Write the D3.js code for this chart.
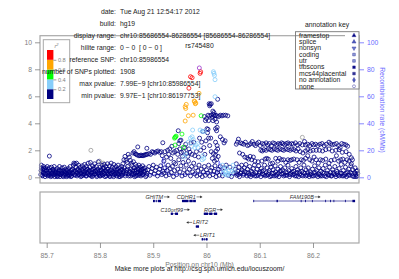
<!DOCTYPE html>
<html>
<head>
<meta charset="utf-8">
<script src="https://cdn.jsdelivr.net/npm/d3@7"></script>
<style>
html, body { margin: 0; padding: 0; background: #fff; }
svg { display: block; }
text { font-family: "Liberation Sans", sans-serif; }
</style>
</head>
<body>
<div id="chart"></div>
<script>
// DATA //
const headerLabels = ["date:", "build:", "display range:", "hilite range:", "reference SNP:", "number of SNPs plotted:", "max pvalue:", "min pvalue:"]
const headerValues = ["Tue Aug 21 12:54:17 2012", "hg19", "chr10:85686554-86286554 [85686554-86286554]", "0 \u2212 0  [ 0 \u2212 0 ]", "chr10:85986554", "1908", "7.99E\u22129 [chr10:85986554]", "9.97E\u22121 [chr10:86197753]"]
const annotationNames = ["framestop", "splice", "nonsyn", "coding", "utr", "tfbscons", "mcs44placental", "no annotation", "none"]
const xTicks = [85.7, 85.8, 85.9, 86, 86.1, 86.2]
const xTickLabels = ["85.7", "85.8", "85.9", "86", "86.1", "86.2"]
const yTicks = [0, 2, 4, 6, 8, 10]
const recombTicks = [0, 20, 40, 60, 80, 100]
const ldBreaks = [0, 0.2, 0.4, 0.6, 0.8, 1]
const ldColors = ["#000080", "#87cefa", "#00ff00", "#ffa500", "#ff0000"]

const refSnp = [[85.9866, 8.1]]
const redPoints = [[85.970,7.45],[85.973,7.38],[85.989,7.82],[85.988,7.7],[85.967,6.6]]
const orangePoints = [[85.986,6.22],[85.962,5.4],[85.960,5.23],[85.961,5.1],[85.978,5.6],[85.979,5.45],[85.977,5.65],[85.980,5.5],[85.975,4.6],[85.966,4.56],[85.960,4.17]]
const greenPoints = [[85.990,4.56],[85.941,2.96],[85.942,3.0],[85.940,2.9],[85.943,3.05],[85.954,3.2],[85.941,2.39],[85.9565,2.22]]
const lightBluePoints = [
  [86.013,7.82],[86.014,7.7],[86.015,7.55],[86.016,7.23],[86.016,5.97],[85.974,3.5],[85.988,3.5],[85.992,3.4],[85.996,3.4],
  [85.970,2.9],[85.973,3.0],[85.975,2.8],[85.966,2.6],[85.983,2.5],[85.980,2.4],[85.978,2.2],[85.984,2.2],[85.972,2.3],
  [85.961,1.7],[85.958,1.5],[85.993,1.6],[85.995,1.4],[85.992,1.3],
  [86.030,0.9],[86.033,0.6],[86.036,0.4],[86.038,0.7],[86.040,0.3],[86.042,0.5],[86.035,0.2],[86.045,0.2],[86.048,0.45],[86.050,0.9],[86.052,0.5],[86.039,0.15],[86.031,0.3]
]
const grayPoints = [[85.783,2.0],[85.799,1.2],[85.806,1.05],[86.180,2.96]]
const navyPoints = [
  // left band
  [85.689,.2],[85.690,.7],[85.690,.9],[85.691,.4],[85.692,.1],[85.693,.6],[85.694,.8],[85.695,.3],[85.696,.5],[85.697,.05],[85.698,.7],[85.699,.2],[85.700,.45],[85.701,.8],[85.702,.1],[85.703,.6],[85.704,.3],[85.705,1.57],[85.705,.7],[85.706,.15],
  [85.707,.5],[85.708,.25],[85.709,.75],[85.710,.1],[85.711,.4],[85.712,.6],[85.713,.2],[85.714,.8],[85.715,.05],[85.716,.35],[85.717,.55],[85.718,.15],[85.719,.3],[85.720,.65],[85.721,.1],[85.722,.45],[85.723,.25],[85.724,.8],[85.725,.05],[85.726,.5],
  [85.727,.2],[85.728,.35],[85.729,.7],[85.730,.1],[85.731,.5],[85.732,.25],[85.733,.75],[85.734,.15],[85.735,.4],[85.736,.6],[85.737,.05],[85.738,.3],[85.739,.5],[85.740,.2],[85.741,.65],[85.742,.1],[85.743,.4],[85.744,.8],[85.745,.25],[85.746,.5],
  [85.747,.1],[85.748,.35],[85.749,.6],[85.750,.9],[85.751,1.05],[85.752,.2],[85.753,1.0],[85.754,.45],[85.755,.75],[85.756,1.05],[85.757,.1],[85.758,.35],[85.759,.6],[85.760,.9],[85.761,.2],[85.762,.5],[85.763,.75],[85.764,.05],[85.765,.3],[85.766,.6],
  [85.767,.85],[85.768,.15],[85.769,.4],[85.770,.7],[85.771,.95],[85.772,.25],[85.773,.5],[85.774,.8],[85.775,.1],[85.776,.35],[85.777,.6],[85.778,1.05],[85.779,.2],[85.780,.45],[85.781,.75],[85.782,1.1],[85.783,.1],[85.784,.3],[85.785,.55],[85.786,.85],
  [85.787,.15],[85.788,.4],[85.789,.7],[85.790,1.0],[85.791,.25],[85.792,.5],[85.793,.8],[85.794,.05],[85.795,.35],[85.796,.6],[85.797,1.15],[85.798,.2],[85.799,.45],[85.800,.75],[85.801,.1],[85.802,.3],[85.803,.55],[85.804,.9],[85.805,.15],[85.806,.4],
  [85.807,.7],[85.808,.95],[85.809,.25],[85.810,.5],[85.811,.8],[85.812,.1],[85.813,.35],[85.814,1.0],[85.815,.6],[85.816,.2],[85.817,.45],[85.818,.85],[85.819,.05],[85.820,.3],[85.821,1.05],[85.822,.55],[85.823,.75],[85.824,.15],[85.825,.4],[85.826,.95],
  [85.827,.65],[85.828,.25],[85.829,.5],[85.830,.8],[85.831,.1],[85.832,.35],[85.833,.6],[85.834,.9],[85.835,.2],[85.836,.45],[85.837,.7],[85.838,.05],[85.839,.3],[85.840,.55],[85.841,.8],[85.842,.15],[85.843,1.0],[85.844,.4],[85.845,1.3],[85.846,.7],
  [85.847,1.55],[85.848,.25],[85.849,1.25],[85.850,.5],[85.851,1.1],[85.852,.8],[85.853,1.7],[85.854,.1],[85.855,1.5],[85.856,.35],[85.857,1.25],[85.858,.6],[85.859,1.05],[85.860,.9],[85.861,.2],[85.862,.45],[85.863,1.15],[85.864,.7],[85.865,.05],[85.866,.3],
  [85.867,.95],[85.868,.55],[85.869,.8],[85.870,.15],[85.871,.4],[85.872,.65],[85.873,.9],[85.874,.25],[85.875,.5],[85.876,.75],[85.877,.1],[85.878,.35],[85.879,.6],[85.880,.85],[85.881,.2],[85.882,.45],[85.884,.7],[85.886,.05],[85.888,.3],[85.890,.55],
  [85.892,.8],[85.894,.15],[85.896,.4],[85.898,.65],[85.900,.9],[85.902,.25],[85.904,.5],[85.906,.75],[85.908,.1],[85.910,.35],[85.912,.6],[85.914,.85],[85.916,.2],[85.918,.45],
  // second pass over the solid part of the left band
  [85.6895,.5],[85.6915,.15],[85.6935,.35],[85.6955,.65],[85.6975,.25],[85.6995,.55],[85.7015,.3],[85.7035,.15],[85.7055,.45],[85.7075,.05],[85.7095,.3],[85.7115,.55],[85.7135,.45],[85.7155,.25],[85.7175,.4],[85.7195,.05],[85.7215,.3],[85.7235,.55],[85.7255,.2],[85.7275,.45],
  [85.7295,.3],[85.7315,.05],[85.7335,.4],[85.7355,.25],[85.7375,.5],[85.7395,.1],[85.7415,.35],[85.7435,.2],[85.7455,.05],[85.7475,.55],[85.7495,.3],[85.7515,.45],[85.7535,.15],[85.7555,.3],[85.7575,.55],[85.7595,.2],[85.7615,.45],[85.7635,.3],[85.7655,.1],[85.7675,.5],
  [85.7695,.25],[85.7715,.4],[85.7735,.1],[85.7755,.6],[85.7775,.3],[85.7795,.5],[85.7815,.2],[85.7835,.4],[85.7855,.05],[85.7875,.6],[85.7895,.25],[85.7915,.45],[85.7935,.15],[85.7955,.5],[85.7975,.3],[85.7995,.1],[85.8015,.55],[85.8035,.2],[85.8055,.65],[85.8075,.3],
  [85.8095,.05],[85.8115,.45],[85.8135,.6],[85.8155,.25],[85.8175,.1],[85.8195,.5],[85.8215,.3],[85.8235,.4],[85.8255,.05],[85.8275,.2],[85.8295,.35],[85.8315,.55],[85.8335,.25],[85.8355,.05],[85.8375,.45],[85.8395,.15],[85.8415,.6],[85.8435,.3],[85.8455,.5],[85.8475,.1],
  [85.8495,.35],[85.8515,.6],[85.8535,.25],[85.8555,.45],[85.8575,.1],[85.8595,.3],[85.8615,.55],[85.8635,.2],[85.8655,.45],[85.8675,.1],[85.8695,.35],[85.8715,.6],[85.8735,.15],[85.8755,.3],[85.8775,.55],[85.8795,.2],[85.8815,.65],[85.8835,.35],[85.8855,.5],[85.8875,.15],
  // ridge before the peak
  [85.862,1.8],[85.864,1.9],[85.866,1.75],[85.868,1.7],[85.871,2.25],[85.870,1.65],[85.873,1.6],[85.875,1.6],[85.877,1.65],[85.879,1.6],[85.881,1.6],[85.883,1.65],[85.885,1.65],[85.888,2.15],[85.887,1.7],[85.889,1.7],[85.892,1.75],[85.895,1.7],[85.898,1.9],[85.900,1.85],[85.903,1.8],[85.906,1.9],[85.909,1.95],[85.912,1.85],[85.915,1.9],[85.917,1.6],[85.918,2.56],[85.920,1.2],[85.922,1.9],[85.925,1.5],[85.927,2.0],[85.929,1.7],[85.931,2.1],[85.933,1.4],[85.935,2.3],[85.937,1.8],[85.939,1.1],[85.940,1.9],
  // under the peak
  [85.920,.3],[85.922,.7],[85.924,.1],[85.926,.5],[85.928,.9],[85.930,.2],[85.932,.65],[85.934,.35],[85.936,.8],[85.938,.05],[85.940,.5],[85.942,1.0],[85.944,.2],[85.946,.6],[85.948,1.3],[85.950,.4],[85.952,.85],[85.954,.1],[85.956,1.1],[85.958,.55],[85.960,.2],[85.962,.9],[85.964,.35],[85.966,1.2],[85.968,.6],[85.970,.1],[85.972,.8],[85.974,.4],[85.976,1.05],[85.978,.25],[85.980,.7],[85.982,.1],[85.984,.5],[85.986,.9],[85.988,.2],[85.990,.6],[85.992,.05],[85.994,.4],[85.996,.8],[85.998,.15],[86.000,.55],[86.002,.3],[86.004,.9],[86.006,.1],[86.008,.5],[86.010,.7],[86.012,.2],[86.014,.45],[86.016,.85],[86.018,.05],[86.020,.35],[86.022,.6],[86.024,.15],[86.026,.8],[86.028,.4],
  [85.947,3.45],[85.950,2.7],[85.952,2.75],[85.948,2.5],[85.944,2.0],[85.946,1.7],[85.950,2.1],[85.953,1.85],[85.955,1.55],[85.957,1.9],[85.959,2.2],[85.961,2.45],[85.963,1.75],[85.965,1.55],[85.967,2.1],[85.969,1.85],[85.971,2.55],[85.973,1.7],[85.976,2.6],[85.978,1.6],[85.981,1.9],[85.985,1.5],[85.987,2.9],[85.989,2.0],[85.991,2.6],[85.993,3.4],[85.995,2.2],[85.997,1.7],[85.999,2.7],[86.001,3.6],[86.002,3.3],[86.004,2.9],[86.006,2.35],[86.008,2.9],[86.009,1.9],[86.011,1.4],[86.013,1.75],[86.015,1.2],[86.017,1.65],[86.018,1.95],[86.020,2.35],[86.021,2.1],[86.019,1.3],[86.017,2.6],[86.022,1.55],
  [86.003,3.55],[86.017,3.6],[86.020,3.7],[86.019,3.45],[86.030,2.8],[86.026,3.0],[86.035,2.7],[86.033,2.55],
  // upper column
  [86.021,5.78],[86.005,5.45],[86.007,5.4],[86.009,5.45],[86.006,5.3],[86.012,4.9],[86.014,4.8],[86.013,4.65],[85.996,4.5],[86.000,4.35],[86.003,4.6],[86.006,4.55],[86.009,4.6],[86.011,4.45],[86.015,4.55],[86.017,4.6],[86.020,4.55],[86.023,4.5],[86.026,4.6],[86.029,4.55],[86.032,4.6],[86.036,4.6],[86.040,4.55],[85.998,4.2],[86.004,4.2],[86.012,4.2],[86.016,4.3],[86.019,4.1],
  // right side rows
  [86.060,2.83],[86.056,2.45],[86.058,2.6],[86.064,2.55],[86.067,2.5],[86.070,2.45],[86.073,2.6],[86.077,2.35],[86.080,2.4],[86.083,2.5],[86.086,2.65],[86.089,2.45],[86.092,2.35],[86.095,2.5],[86.098,2.6],[86.101,2.35],[86.105,2.5],[86.108,2.45],[86.112,2.55],[86.115,2.4],[86.118,2.5],[86.122,2.35],[86.125,2.55],[86.128,2.5],[86.132,2.4],[86.135,2.5],[86.138,2.45],[86.141,2.55],[86.144,2.5],[86.147,2.4],[86.150,2.5],[86.153,2.55],[86.156,2.45],[86.160,2.5],[86.163,2.45],[86.167,2.55],[86.171,2.4],[86.175,2.5],[86.180,2.4],[86.184,2.65],[86.186,2.4],[86.190,2.45],[86.194,2.35],[86.198,2.5],[86.201,2.4],[86.205,2.45],[86.209,2.35],[86.213,2.45],[86.217,2.5],[86.221,2.35],[86.225,2.45],[86.230,2.6],[86.233,2.5],[86.236,2.4],[86.240,2.45],[86.244,2.5],[86.248,2.35],[86.251,2.2],[86.254,2.5],[86.258,2.45],[86.262,2.4],[86.265,2.3],
  [86.102,2.0],[86.105,1.95],[86.108,2.05],[86.112,2.0],[86.116,2.1],[86.120,2.05],[86.123,2.0],[86.127,2.1],[86.131,2.05],[86.134,2.0],[86.138,2.1],[86.142,2.05],[86.145,2.0],[86.149,2.1],[86.153,2.05],[86.157,2.0],[86.160,2.1],[86.164,2.05],[86.168,1.95],[86.172,2.1],[86.176,1.9],[86.181,1.8],[86.186,1.95],[86.190,2.05],[86.195,1.95],[86.200,2.0],[86.206,2.0],[86.212,2.0],[86.218,1.95],[86.224,2.05],[86.230,2.1],[86.236,1.95],[86.243,2.0],[86.249,2.05],[86.255,1.85],[86.262,1.9],[86.268,1.7],[86.272,1.45],[86.274,1.3],
  [86.062,1.8],[86.068,1.7],[86.072,1.5],[86.076,1.45],[86.079,1.35],[86.082,1.55],[86.085,1.3],[86.088,1.5],[86.091,1.2],[86.097,1.15],[86.104,1.2],[86.110,1.35],[86.113,1.4],[86.116,1.35],[86.120,1.0],[86.124,1.05],[86.130,1.4],[86.134,1.2],[86.137,1.4],[86.141,1.3],[86.145,1.3],[86.149,1.1],[86.153,1.3],[86.157,1.25],[86.160,1.3],[86.164,1.35],[86.170,1.3],[86.174,1.1],[86.178,1.3],[86.182,1.25],[86.186,1.4],[86.190,1.6],[86.194,1.3],[86.198,1.2],[86.202,1.5],[86.206,1.3],[86.210,1.05],[86.214,1.3],[86.218,1.25],[86.224,1.35],[86.230,1.05],[86.234,1.25],[86.240,1.3],[86.244,1.6],[86.248,1.2],[86.252,1.3],[86.256,1.35],[86.260,1.1],[86.264,1.3],[86.268,1.2],[86.272,1.0],
  // right base
  [86.030,.1],[86.034,.7],[86.037,.9],[86.041,.15],[86.044,.75],[86.047,.05],[86.051,.3],[86.054,.6],[86.056,1.0],[86.057,.15],[86.059,.45],[86.061,.75],[86.062,.05],[86.064,.3],[86.066,.9],[86.067,.55],[86.069,.15],[86.071,.7],[86.072,.4],[86.074,.95],[86.076,.1],[86.077,.6],[86.079,.3],[86.081,.8],[86.083,.05],[86.084,.45],[86.086,.2],[86.088,.65],[86.090,.9],[86.091,.1],[86.093,.35],[86.095,.6],[86.097,.15],[86.098,.85],[86.100,.4],[86.102,.05],[86.103,.65],[86.105,.25],[86.107,.5],[86.109,.9],[86.110,.1],[86.112,.35],[86.114,.7],[86.116,.2],[86.118,.5],[86.119,.05],[86.121,.75],[86.123,.3],[86.125,.55],[86.127,.1],[86.129,.85],[86.130,.4],[86.132,.2],[86.134,.6],[86.136,.05],[86.138,.45],[86.139,.8],[86.141,.25],[86.143,.55],[86.145,.1],[86.147,.7],[86.149,.35],[86.151,.15],[86.153,.9],[86.155,.5],[86.156,.05],[86.158,.3],[86.160,.65],[86.162,.2],[86.164,.45],[86.166,.1],[86.168,.8],[86.170,.35],[86.171,.55],[86.173,.05],[86.175,.25],[86.177,.7],[86.179,.45],[86.181,.1],[86.183,.9],[86.185,.3],[86.187,.55],[86.189,.15],[86.191,.7],[86.193,.05],[86.195,.4],[86.197,.25],[86.199,.6],[86.201,.1],[86.203,.85],[86.205,.35],[86.207,.5],[86.209,.05],[86.211,.7],[86.213,.2],[86.215,.45],[86.217,.1],[86.219,.65],[86.221,.3],[86.223,.9],[86.225,.05],[86.227,.5],[86.229,.2],[86.231,.75],[86.233,.35],[86.235,.1],[86.237,.55],[86.239,.25],[86.241,.8],[86.243,.05],[86.245,.45],[86.247,.15],[86.249,.65],[86.251,.3],[86.253,.95],[86.255,.1],[86.257,.5],[86.259,.2],[86.261,.75],[86.263,.05],[86.265,.4],[86.267,.6],[86.269,.15],[86.271,.85],[86.273,.3],[86.275,.55],[86.277,.05],[86.279,.7],[86.280,.2],[86.282,.45],[86.283,.1],[86.284,.3],
  // extra dots low down on the right, darker patches
  [86.056,.3],[86.060,.2],[86.065,.4],[86.070,.25],[86.075,.35],[86.080,.15],[86.085,.35],[86.089,.25],[86.094,.1],[86.099,.3],[86.104,.45],[86.108,.2],[86.113,.15],[86.117,.35],[86.122,.1],[86.126,.3],[86.131,.1],[86.135,.3],[86.140,.45],[86.144,.25],[86.148,.15],[86.152,.35],[86.157,.2],[86.161,.4],[86.165,.25],[86.169,.1],[86.174,.4],[86.178,.15],[86.182,.35],[86.186,.1],[86.190,.35],[86.194,.2],[86.198,.1],[86.202,.35],[86.206,.15],[86.210,.25],[86.214,.1],[86.218,.35],[86.222,.1],[86.226,.3],[86.230,.15],[86.234,.1],[86.238,.35],[86.242,.2],[86.246,.3],[86.250,.1],[86.254,.3],[86.258,.1],[86.262,.3],[86.266,.15],[86.270,.35],[86.274,.1],[86.278,.35],[86.281,.05],[86.2835,.5]
]
const recombPos = [85.687, 85.80, 85.88, 85.916, 85.9175, 85.924, 85.927, 85.96, 85.99, 86.02, 86.024, 86.03, 86.05, 86.10, 86.286]
const recombRate = [1, 1, 1.5, 2, 15, 7, 2, 2, 3, 3, 12, 3, 2, 1, 1]

const geneNames = ["GHITM", "CDHR1", "C10orf99", "RGR", "LRIT2", "LRIT1", "FAM190B"]
const geneStart = [85.8996, 85.954, 85.933, 85.995, 85.980, 85.991, 86.088]
const geneEnd = [85.9146, 85.980, 85.9466, 86.020, 85.986, 86.002, 86.279]
const geneRow = [0, 0, 1, 1, 2, 3, 0]
const geneStrand = [1, 1, 1, 1, -1, -1, 1]
const geneLabelPos = [85.902, 85.962, 85.935, 86.0067, 85.9887, 86.002, 86.179]
const geneExons = [
  [[85.8996,85.903],[85.905,85.906],[85.909,85.9146]],
  [[85.954,85.966],[85.968,85.974],[85.975,85.980]],
  [[85.933,85.937],[85.941,85.9466]],
  [[85.995,86.003],[86.005,86.011],[86.014,86.020]],
  [[85.980,85.986]],
  [[85.991,85.994],[85.996,85.997],[85.999,86.002]],
  [[86.088,86.0885],[86.1315,86.134],[86.177,86.178],[86.185,86.186],[86.198,86.199],[86.223,86.224],[86.232,86.233],[86.2385,86.2395],[86.260,86.261],[86.274,86.279]]
]

// GLOBAL VARIABLES //
const dimensions = { width: 399, height: 279 }
const plot = { left: 40, right: 359, top: 35.7, bottom: 183 }
const genePanel = { top: 192, bottom: 243 }
const frameColor = "#a8a8a8"
const axisColor = "#808080"
const recombColor = "#6a6aff"

const xScale = d3.scaleLinear().domain([85.7, 86.2]).range([46.7, 313])
const yScale = d3.scaleLinear().domain([0, 10]).range([177.3, 42.3])
const recombScale = d3.scaleLinear().domain([0, 100]).range([177.3, 42.3])
const ldScale = d3.scaleLinear().domain([0, 1]).range([99, 50])

const svg = d3.select("#chart").append("svg")
    .attr("width", dimensions.width)
    .attr("height", dimensions.height)

// recombination line goes under the dots
const recombLine = d3.line()
    .x((d, i) => xScale(recombPos[i]))
    .y(d => recombScale(d))

svg.append("path")
    .attr("d", recombLine(recombRate))
    .attr("fill", "none")
    .attr("stroke", recombColor)
    .attr("stroke-width", 0.8)

function drawDots(points, color) {
    svg.append("g").selectAll("circle").data(points)
        .join("circle")
        .attr("cx", d => xScale(d[0]))
        .attr("cy", d => yScale(d[1]))
        .attr("r", 2)
        .attr("fill", "none")
        .attr("stroke", color)
        .attr("stroke-width", 0.8)
}

drawDots(grayPoints, "#999999")
drawDots(navyPoints, ldColors[0])
drawDots(lightBluePoints, ldColors[1])
drawDots(greenPoints, ldColors[2])
drawDots(orangePoints, ldColors[3])
drawDots(redPoints, ldColors[4])
drawDots(refSnp, "#9932cc")

// frames
function frame(top, bottom, color) {
    svg.append("rect")
        .attr("x", plot.left)
        .attr("y", top)
        .attr("width", plot.right - plot.left)
        .attr("height", bottom - top)
        .attr("fill", "none")
        .attr("stroke", color)
        .attr("stroke-width", 1.2)
}
frame(plot.top, plot.bottom, frameColor)
frame(genePanel.top, genePanel.bottom, frameColor)

function styleAxis(g, color) {
    g.select(".domain").remove()
    g.selectAll("line").attr("stroke", color).attr("stroke-width", 0.8)
    g.selectAll("text").attr("fill", color)
        .style("font-family", "'Liberation Sans', sans-serif")
        .style("font-size", "6.8px")
}

svg.append("g")
    .attr("transform", `translate(${plot.left},0)`)
    .call(d3.axisLeft(yScale).tickValues(yTicks).tickSize(5).tickPadding(3))
    .call(styleAxis, axisColor)

svg.append("g")
    .attr("transform", `translate(${plot.right},0)`)
    .call(d3.axisRight(recombScale).tickValues(recombTicks).tickSize(5).tickPadding(3))
    .call(styleAxis, recombColor)

svg.append("g")
    .attr("transform", `translate(0,${genePanel.bottom})`)
    .call(d3.axisBottom(xScale).tickValues(xTicks).tickFormat((d, i) => xTickLabels[i]).tickSize(5).tickPadding(5))
    .call(styleAxis, axisColor)

svg.append("text")
    .attr("transform", "translate(379.5,110) rotate(90)")
    .attr("text-anchor", "middle")
    .attr("fill", recombColor)
    .style("font-size", "6.8px")
    .text("Recombination rate (cM/Mb)")

// genes
const rowY = d3.scaleLinear().domain([0, 3]).range([201, 239.3])

geneNames.forEach((name, i) => {
    const y = rowY(geneRow[i])
    svg.append("line")
        .attr("x1", xScale(geneStart[i]))
        .attr("x2", xScale(geneEnd[i]))
        .attr("y1", y)
        .attr("y2", y)
        .attr("stroke", "#000080")
        .attr("stroke-width", 0.6)

    svg.append("g").selectAll("rect").data(geneExons[i])
        .join("rect")
        .attr("x", d => xScale(d[0]))
        .attr("y", y - 1.2)
        .attr("width", d => Math.max(0.8, xScale(d[1]) - xScale(d[0])))
        .attr("height", 2.4)
        .attr("fill", "#000080")

    const label = svg.append("text")
        .attr("x", xScale(geneLabelPos[i]))
        .attr("y", y - 2.2)
        .attr("text-anchor", "middle")
        .attr("fill", "#333")
        .style("font-size", "5.5px")
        .style("font-style", "italic")
        .text(name)

    // strand arrow next to the gene name
    const half = label.node().getComputedTextLength() / 2
    const strand = geneStrand[i]
    const ax = xScale(geneLabelPos[i]) + strand * (half + 0.8)
    const ay = y - 4.1
    svg.append("path")
        .attr("d", `M${ax},${ay}h${strand * 5}`)
        .attr("stroke", "#333")
        .attr("stroke-width", 0.6)
    svg.append("path")
        .attr("d", `M${ax + strand * 6},${ay}l${-strand * 2.4},-1.3v2.6z`)
        .attr("fill", "#333")
})

svg.append("text")
    .attr("x", 199.5)
    .attr("y", 267)
    .attr("text-anchor", "middle")
    .attr("fill", "#777")
    .style("font-size", "6.8px")
    .text("Position on chr10 (Mb)")

svg.append("text")
    .attr("x", 199.5)
    .attr("y", 271)
    .attr("text-anchor", "middle")
    .attr("fill", "#222")
    .style("font-size", "6.8px")
    .text("Make more plots at http://csg.sph.umich.edu/locuszoom/")

// r2 legend
svg.append("rect")
    .attr("x", 43.3)
    .attr("y", 39.7)
    .attr("width", 26.4)
    .attr("height", 63)
    .attr("fill", "#fff")
    .attr("stroke", frameColor)
    .attr("stroke-width", 1)

svg.append("g").selectAll("rect").data(ldColors)
    .join("rect")
    .attr("x", 47)
    .attr("y", (d, i) => ldScale(ldBreaks[i + 1]))
    .attr("width", 6.4)
    .attr("height", (d, i) => ldScale(ldBreaks[i]) - ldScale(ldBreaks[i + 1]))
    .attr("fill", d => d)

const ldAxis = svg.append("g")
    .attr("transform", "translate(53.4,0)")
    .call(d3.axisRight(ldScale).tickValues(ldBreaks.slice(1, 5)).tickFormat(d3.format(".1f")).tickSize(3).tickPadding(1.5))
    .call(styleAxis, axisColor)
ldAxis.selectAll("text").style("font-size", "5.6px")

const r2Label = svg.append("text")
    .attr("x", 56.5)
    .attr("y", 47.5)
    .attr("text-anchor", "middle")
    .attr("fill", axisColor)
    .style("font-size", "5.6px")
    .style("font-style", "italic")
    .text("r")
r2Label.append("tspan")
    .attr("dy", -2)
    .style("font-size", "4px")
    .text("2")

// header text
const headerY = d3.scalePoint().domain(headerLabels).range([14.3, 98.3])

svg.append("g").selectAll("text").data(headerLabels)
    .join("text")
    .attr("x", 116)
    .attr("y", d => headerY(d))
    .attr("text-anchor", "end")
    .attr("fill", "#222")
    .style("font-size", "6.8px")
    .text(d => d)

svg.append("g").selectAll("text").data(headerValues)
    .join("text")
    .attr("x", 120)
    .attr("y", (d, i) => headerY(headerLabels[i]))
    .attr("fill", "#222")
    .style("font-size", "6.8px")
    .style("white-space", "pre")
    .text(d => d)

svg.append("text")
    .attr("x", 199.5)
    .attr("y", 48.3)
    .attr("text-anchor", "middle")
    .attr("fill", "#222")
    .style("font-size", "6.8px")
    .text("rs745480")

// annotation key
svg.append("text")
    .attr("x", 327)
    .attr("y", 26.5)
    .attr("text-anchor", "middle")
    .attr("fill", "#222")
    .style("font-size", "6.8px")
    .text("annotation key")

svg.append("rect")
    .attr("x", 295.5)
    .attr("y", 31.7)
    .attr("width", 63.5)
    .attr("height", 57.3)
    .attr("fill", "#fff")
    .attr("stroke", "#777")
    .attr("stroke-width", 0.9)

const keyY = d3.scalePoint().domain(annotationNames).range([37.7, 88.5])
const keySymbols = [d3.symbolTriangle, d3.symbolTriangle, d3.symbolTriangle, d3.symbolSquare, d3.symbolSquare, d3.symbolSquare, d3.symbolSquare, d3.symbolDiamond, d3.symbolCircle]
const keyFill = ["#000080", "#5060c0", "#7080d0", "#90a0d8", "#90a0d8", "#000080", "#303090", "#5060c0", "#fff"]
const keyRotate = [0, 0, 180, 0, 0, 0, 0, 0, 0]

svg.append("line")
    .attr("x1", 295.5)
    .attr("x2", 345)
    .attr("y1", plot.top)
    .attr("y2", plot.top)
    .attr("stroke", "#777")
    .attr("stroke-width", 0.8)

svg.append("g").selectAll("text").data(annotationNames)
    .join("text")
    .attr("x", 299)
    .attr("y", d => keyY(d))
    .attr("fill", "#222")
    .style("font-size", "6.8px")
    .text(d => d)

svg.append("g").selectAll("path").data(annotationNames)
    .join("path")
    .attr("transform", (d, i) => `translate(354,${keyY(d) - 2.2}) rotate(${keyRotate[i]})`)
    .attr("d", (d, i) => d3.symbol().type(keySymbols[i]).size(7)())
    .attr("fill", (d, i) => keyFill[i])
    .attr("stroke", "#3a3aa0")
    .attr("stroke-width", 0.5)
</script>
</body>
</html>
